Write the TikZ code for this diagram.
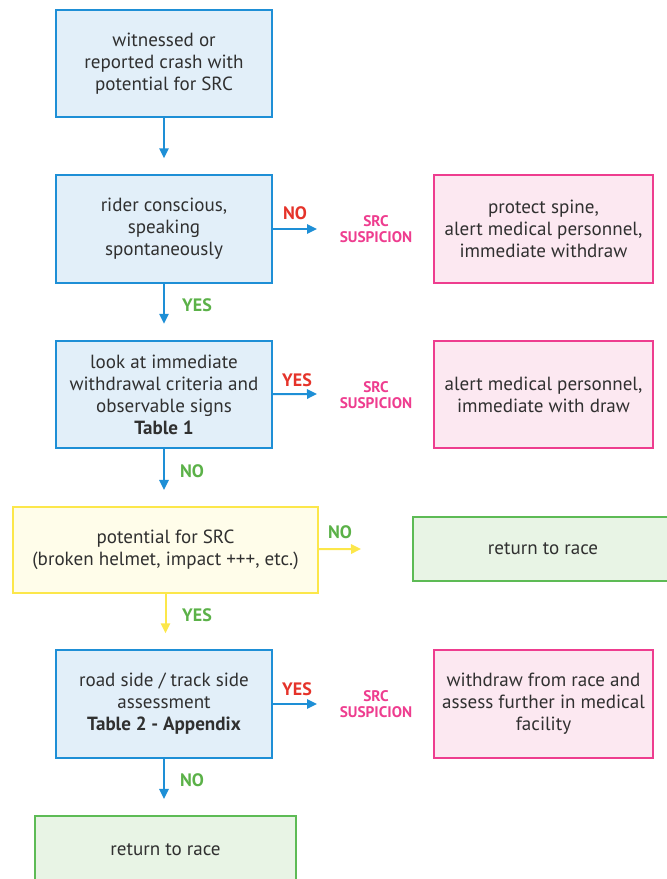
\documentclass[tikz,border=0pt]{standalone}
\usepackage{fontspec}
\setmainfont{PT Sans}
\usetikzlibrary{arrows.meta}
\definecolor{bluedraw}{HTML}{1E8FD6}
\definecolor{bluefill}{HTML}{E2EFF9}
\definecolor{pinkdraw}{HTML}{EE3D8F}
\definecolor{pinkfill}{HTML}{FCE8F1}
\definecolor{yellowdraw}{HTML}{FCE74A}
\definecolor{yellowfill}{HTML}{FFFDEA}
\definecolor{greendraw}{HTML}{5DBB55}
\definecolor{greenfill}{HTML}{E8F4E5}
\definecolor{nored}{HTML}{E5332A}
\definecolor{yesgreen}{HTML}{5BB148}
\definecolor{txt}{HTML}{303030}
\begin{document}
\begin{tikzpicture}[x=0.75pt,y=-0.75pt,
    box/.style={draw,line width=1.6pt,align=center,text=txt,
      font=\fontsize{14.3}{16.5}\selectfont,inner sep=0pt},
    bluebox/.style={box,draw=bluedraw,fill=bluefill,
      minimum width=162pt,minimum height=80.5pt},
    pinkbox/.style={box,draw=pinkdraw,fill=pinkfill,
      minimum width=164pt,minimum height=80.5pt},
    yellowbox/.style={box,draw=yellowdraw,fill=yellowfill,
      minimum width=229pt,minimum height=64.5pt},
    greenbox/.style={box,draw=greendraw,fill=greenfill},
    link/.style={line width=1.5pt,draw=bluedraw,
      -{Triangle[length=7.5pt,width=7pt]}},
    ylink/.style={link,draw=yellowdraw},
    gap/.style={shorten >=12pt},
    redlbl/.style={text=nored,font=\bfseries\fontsize{13.5}{15}\selectfont},
    greenlbl/.style={text=yesgreen,font=\bfseries\fontsize{13.5}{15}\selectfont},
    susp/.style={text=pinkdraw,align=center,
      font=\bfseries\fontsize{11.5}{12}\selectfont}]
  \useasboundingbox (0,0) rectangle (667,879);

  % left column
  \node[bluebox] (crash) at (164,63.5) {witnessed or\\reported crash with\\potential for SRC};
  \node[bluebox] (conscious) at (164,229) {rider conscious,\\speaking\\spontaneously};
  \node[bluebox] (lookat) at (164,394.5) {look at immediate\\withdrawal criteria and\\observable signs\\\textbf{Table 1}};
  \node[yellowbox] (potential) at (165.5,550) {potential for SRC\\(broken helmet, impact +++, etc.)};
  \node[bluebox] (roadside) at (164,704) {road side / track side\\assessment\\\textbf{Table 2 - Appendix}};
  \node[greenbox,minimum width=196pt,minimum height=51pt] (race2) at (165.5,850) {return to race};

  % right column
  \node[pinkbox] (spine) at (543.5,229) {protect spine,\\alert medical personnel,\\immediate withdraw};
  \node[pinkbox] (alert) at (543.5,394.5) {alert medical personnel,\\immediate with draw};
  \node[greenbox,minimum width=195pt,minimum height=48pt] (race1) at (543,549) {return to race};
  \node[pinkbox] (withdraw) at (543.5,704) {withdraw from race and\\assess further in medical\\facility};

  % suspicion labels
  \node[susp] (susp1) at (376,229) {SRC\\SUSPICION};
  \node[susp] (susp2) at (376,395) {SRC\\SUSPICION};
  \node[susp] (susp3) at (376,704) {SRC\\SUSPICION};

  % free arrow ends
  \coordinate (t1) at (317,229);
  \coordinate (t2) at (317,394);
  \coordinate (t3) at (361,549);
  \coordinate (t4) at (317,704);

  \begin{scope}
    \draw[link,gap] (crash) -- (conscious);
    \draw[link,gap] (conscious) -- (lookat);
    \draw[link,gap] (lookat) -- (lookat |- potential.north);
    \draw[ylink,gap] (potential) -- (potential |- roadside.north);
    \draw[link,gap] (roadside) -- (roadside |- race2.north);
    \draw[link] (conscious) -- (t1);
    \draw[link] (lookat) -- (t2);
    \draw[ylink] (potential) -- (t3);
    \draw[link] (roadside) -- (t4);
  \end{scope}

  % answers
  \node[redlbl] (no1) at (295,213) {NO};
  \node[redlbl] (yes2) at (297,380) {YES};
  \node[redlbl] (yes4) at (297,689) {YES};
  \node[greenlbl] (no3) at (340,532) {NO};
  \node[greenlbl] (yes1) at (197,305) {YES};
  \node[greenlbl] (no2) at (192,471) {NO};
  \node[greenlbl] (yes3) at (197,615) {YES};
  \node[greenlbl] (no4) at (192,780) {NO};
\end{tikzpicture}
\end{document}
